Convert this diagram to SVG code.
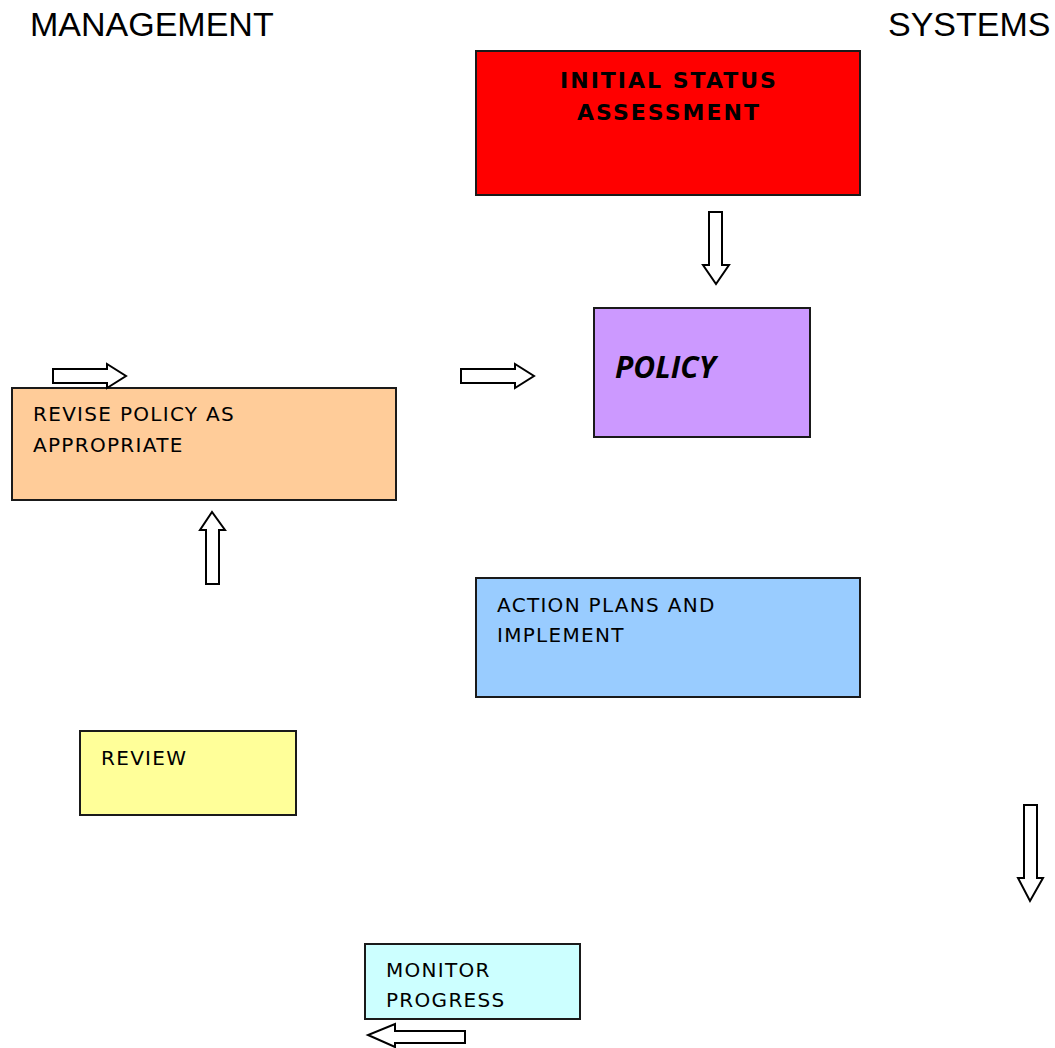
<svg xmlns="http://www.w3.org/2000/svg" width="1055" height="1048" viewBox="0 0 1055 1048">
<style>
.box{stroke:#1a1a1a;stroke-width:2}
.t{font-family:"DejaVu Sans","Liberation Sans",sans-serif;font-size:20px;letter-spacing:1.3px;fill:#000}
.tb{font-family:"DejaVu Sans","Liberation Sans",sans-serif;font-size:22px;letter-spacing:2px;font-weight:bold;fill:#000}
.title{font-family:"Liberation Sans",Arial,sans-serif;font-size:34px;fill:#000}
.arr{fill:#fff;stroke:#000;stroke-width:2;stroke-linejoin:miter}
</style>
<rect width="1055" height="1048" fill="#fff"/>
<text class="title" x="30" y="36">MANAGEMENT</text>
<text class="title" x="888" y="36">SYSTEMS</text>
<g id="initial">
<rect class="box" x="476" y="51" width="384" height="144" fill="#ff0000"/>
<text class="tb" x="669" y="88" text-anchor="middle">INITIAL STATUS</text>
<text class="tb" x="669" y="120" text-anchor="middle">ASSESSMENT</text>
</g>
<g id="policy">
<rect class="box" x="594" y="308" width="216" height="129" fill="#cc99ff"/>
<text x="615" y="378" font-family="'Open Sans','Liberation Sans',sans-serif" font-size="30" font-weight="bold" font-style="italic">POLICY</text>
</g>
<g id="revise">
<rect class="box" x="12" y="388" width="384" height="112" fill="#ffcc99"/>
<text class="t" x="33" y="421">REVISE POLICY AS</text>
<text class="t" x="33" y="452">APPROPRIATE</text>
</g>
<g id="action">
<rect class="box" x="476" y="578" width="384" height="119" fill="#99ccff"/>
<text class="t" x="497" y="612">ACTION PLANS AND</text>
<text class="t" x="497" y="642">IMPLEMENT</text>
</g>
<g id="review">
<rect class="box" x="80" y="731" width="216" height="84" fill="#ffff99"/>
<text class="t" x="101" y="765">REVIEW</text>
</g>
<g id="monitor">
<rect class="box" x="365" y="944" width="215" height="75" fill="#ccffff"/>
<text class="t" x="386" y="977">MONITOR</text>
<text class="t" x="386" y="1007">PROGRESS</text>
</g>
<g id="connectors">
<polygon class="arr" points="709,212 722,212 722,265 729,265 716,284 703,265 709,265"/>
<polygon class="arr" points="53,369 107,369 107,364 126,376 107,388 107,383 53,383"/>
<polygon class="arr" points="461,369 515,369 515,364 534,376 515,388 515,383 461,383"/>
<polygon class="arr" points="206,584 206,530 200,530 212,512 225,530 219,530 219,584"/>
<polygon class="arr" points="1024,805 1037,805 1037,878 1043,878 1030,901 1018,878 1024,878"/>
<polygon class="arr" points="465,1031 395,1031 395,1024 368,1035 395,1047 395,1043 465,1043"/>
</g>
</svg>
